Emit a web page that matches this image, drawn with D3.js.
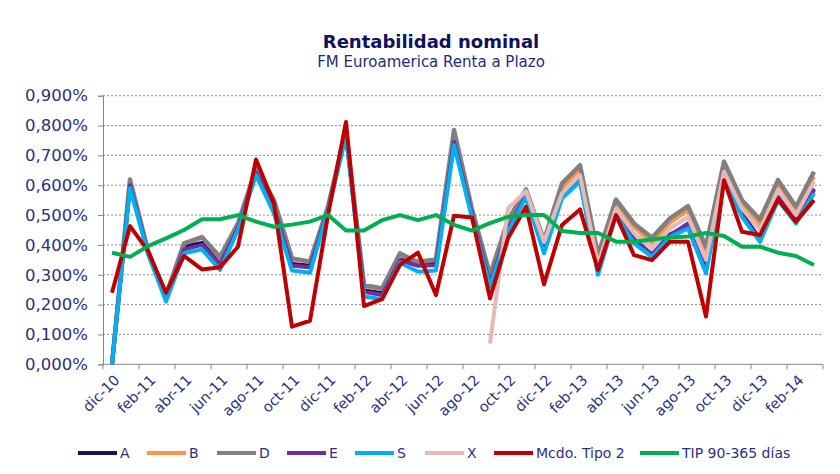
<!DOCTYPE html>
<html>
<head>
<meta charset="utf-8">
<script src="https://cdn.jsdelivr.net/npm/d3@7"></script>
<style>
  body { margin: 0; background: #fff; }
  svg { display: block; font-family: "DejaVu Sans", Verdana, sans-serif; }
</style>
</head>
<body>
<svg id="chart" width="840" height="474"></svg>
<script>
const categories = ["dic-10","ene-11","feb-11","mar-11","abr-11","may-11","jun-11","jul-11","ago-11","sep-11","oct-11","nov-11","dic-11",
  "ene-12","feb-12","mar-12","abr-12","may-12","jun-12","jul-12","ago-12","sep-12","oct-12","nov-12","dic-12",
  "ene-13","feb-13","mar-13","abr-13","may-13","jun-13","jul-13","ago-13","sep-13","oct-13","nov-13","dic-13",
  "ene-14","feb-14","mar-14"];

const yTicks = [0, 0.1, 0.2, 0.3, 0.4, 0.5, 0.6, 0.7, 0.8, 0.9];

const serieA = [0,0.605,0.375,0.22,0.394,0.407,0.338,0.46,0.645,0.525,0.336,0.33,0.52,0.775,0.249,0.238,0.352,0.333,0.336,0.755,0.5,0.275,0.455,0.568,0.385,0.565,0.62,0.315,0.51,0.415,0.365,0.435,0.465,0.32,0.635,0.505,0.42,0.56,0.48,0.585];
const serieB = [0,0.615,0.378,0.228,0.405,0.428,0.355,0.468,0.652,0.545,0.35,0.345,0.525,0.78,0.26,0.252,0.366,0.346,0.35,0.775,0.515,0.29,0.478,0.58,0.405,0.59,0.655,0.35,0.535,0.46,0.407,0.475,0.517,0.38,0.662,0.535,0.47,0.6,0.515,0.628];
const serieD = [0,0.619,0.38,0.232,0.405,0.425,0.36,0.472,0.656,0.55,0.355,0.344,0.528,0.785,0.266,0.254,0.372,0.34,0.352,0.785,0.52,0.3,0.483,0.586,0.415,0.606,0.667,0.366,0.552,0.472,0.424,0.489,0.53,0.394,0.679,0.55,0.485,0.617,0.528,0.645];
const serieE = [0,0.6,0.373,0.218,0.385,0.4,0.335,0.457,0.642,0.52,0.33,0.325,0.518,0.77,0.243,0.232,0.348,0.33,0.332,0.746,0.5,0.27,0.452,0.566,0.38,0.562,0.618,0.31,0.507,0.42,0.369,0.432,0.472,0.315,0.63,0.5,0.418,0.561,0.478,0.589];
const serieS = [0,0.59,0.37,0.21,0.372,0.385,0.316,0.45,0.634,0.506,0.314,0.307,0.515,0.765,0.227,0.218,0.34,0.31,0.314,0.734,0.49,0.26,0.444,0.561,0.372,0.556,0.612,0.3,0.5,0.405,0.36,0.427,0.455,0.305,0.623,0.494,0.41,0.55,0.472,0.573];
const serieX = [null,null,null,null,null,null,null,null,null,null,null,null,null,null,null,null,null,null,null,null,null,0.07,0.522,0.58,0.41,0.573,0.634,0.335,0.522,0.439,0.39,0.455,0.494,0.35,0.645,0.522,0.45,0.585,0.5,0.612];
const serieMcdo = [0.24,0.463,0.38,0.24,0.363,0.318,0.325,0.394,0.686,0.539,0.126,0.146,0.5,0.812,0.195,0.218,0.333,0.374,0.232,0.498,0.492,0.221,0.422,0.528,0.268,0.467,0.519,0.316,0.5,0.366,0.349,0.411,0.411,0.16,0.617,0.444,0.433,0.553,0.478,0.55];
const serieTIP = [0.374,0.36,0.396,0.422,0.45,0.486,0.486,0.5,0.478,0.461,0.468,0.478,0.5,0.448,0.448,0.483,0.5,0.483,0.5,0.467,0.448,0.473,0.494,0.5,0.5,0.447,0.44,0.44,0.411,0.411,0.418,0.425,0.428,0.44,0.43,0.394,0.394,0.374,0.363,0.333];

const seriesNames = ["A","B","D","E","S","X","Mcdo. Tipo 2","TIP 90-365 días"];
const seriesValues = [serieA, serieB, serieD, serieE, serieS, serieX, serieMcdo, serieTIP];
const seriesColors = ["#12125e","#f79646","#808080","#7030a0","#00b0f0","#e6b9b8","#c00000","#00b050"];

const svg = d3.select("#chart");
const textColor = "#2b3180";

const x = d3.scaleBand().domain(categories).range([103, 823]).padding(0);
const y = d3.scaleLinear().domain([0, 0.9]).range([364.3, 95.7]);
const cx = c => x(c) + x.bandwidth() / 2;

// Title
svg.append("text").attr("x", 431).attr("y", 48).attr("text-anchor", "middle")
  .attr("font-size", 18).attr("font-weight", "bold").attr("fill", "#0e1260")
  .text("Rentabilidad nominal");
svg.append("text").attr("x", 431).attr("y", 67).attr("text-anchor", "middle")
  .attr("font-size", 15).attr("fill", "#1f2a80")
  .text("FM Euroamerica Renta a Plazo");

// Gridlines
svg.append("g").selectAll("line").data(yTicks.filter(d => d > 0)).join("line")
  .attr("x1", 103).attr("x2", 823)
  .attr("y1", d => y(d)).attr("y2", d => y(d))
  .attr("stroke", "#8c8c8c").attr("stroke-width", 1).attr("stroke-dasharray", "2,2");

// Y axis
const yAxis = d3.axisLeft(y).tickValues(yTicks).tickSize(5).tickPadding(10)
  .tickFormat(d => d3.format(".3f")(d).replace(".", ",") + "%");
const gy = svg.append("g").attr("transform", "translate(103,0)").call(yAxis);
gy.select(".domain").attr("stroke", "#868686");
gy.selectAll(".tick line").attr("stroke", "#868686");
gy.selectAll(".tick text").attr("font-size", 16.5).attr("fill", textColor)
  .attr("font-family", "DejaVu Sans, Verdana, sans-serif");

// X axis line and tick marks (every 2 categories, at band boundaries)
svg.append("line").attr("x1", 103).attr("x2", 823).attr("y1", y(0)).attr("y2", y(0))
  .attr("stroke", "#868686").attr("stroke-width", 1);
const tickCats = categories.filter((c, i) => i % 2 === 0);
const tickPositions = tickCats.map(c => x(c)).concat([x.range()[1]]);
svg.append("g").selectAll("line").data(tickPositions).join("line")
  .attr("x1", d => d).attr("x2", d => d)
  .attr("y1", y(0)).attr("y2", y(0) + 5)
  .attr("stroke", "#868686");

// X labels
svg.append("g").selectAll("text").data(tickCats).join("text")
  .attr("transform", c => `translate(${cx(c) + 5},${y(0) + 13}) rotate(-45)`)
  .attr("text-anchor", "end")
  .attr("dy", "0.35em")
  .attr("font-size", 14.5).attr("fill", textColor)
  .text(c => c);

// Lines
const line = d3.line()
  .defined(d => d.v !== null)
  .x(d => cx(d.c))
  .y(d => y(d.v));

seriesValues.forEach((vals, k) => {
  const data = categories.map((c, i) => ({ c, v: vals[i] }));
  svg.append("path").datum(data)
    .attr("d", line)
    .attr("fill", "none")
    .attr("stroke", seriesColors[k])
    .attr("stroke-width", k === 2 ? 4.5 : 4)
    .attr("stroke-linejoin", "round")
    .attr("stroke-linecap", "butt");
});

// Legend
const legendItems = [
  { x: 78 }, { x: 147 }, { x: 217 }, { x: 287 }, { x: 355 }, { x: 425 }, { x: 494 }, { x: 640 }
];
const lg = svg.append("g");
seriesNames.forEach((name, k) => {
  const lx = legendItems[k].x;
  lg.append("line").attr("x1", lx).attr("x2", lx + 39).attr("y1", 453).attr("y2", 453)
    .attr("stroke", seriesColors[k]).attr("stroke-width", 4);
  lg.append("text").attr("x", lx + 42).attr("y", 453).attr("dy", "0.35em")
    .attr("font-size", 14).attr("fill", textColor).text(name);
});
</script>
</body>
</html>
